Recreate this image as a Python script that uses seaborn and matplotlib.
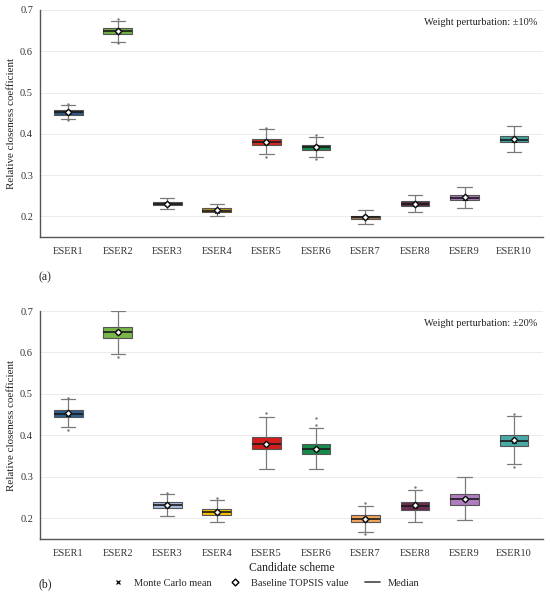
import numpy as np
import pandas as pd
import matplotlib
matplotlib.use('Agg')
import matplotlib.pyplot as plt
from matplotlib.lines import Line2D
import seaborn as sns

schemes = ['ESER1', 'ESER2', 'ESER3', 'ESER4', 'ESER5',
           'ESER6', 'ESER7', 'ESER8', 'ESER9', 'ESER10']

# panel (a): weight perturbation +-10%
a_lo  = [0.435, 0.623, 0.217, 0.200, 0.350, 0.343, 0.181, 0.210, 0.219, 0.356]
a_q1  = [0.446, 0.642, 0.227, 0.210, 0.373, 0.360, 0.194, 0.224, 0.239, 0.379]
a_med = [0.452, 0.648, 0.231, 0.214, 0.380, 0.367, 0.198, 0.230, 0.245, 0.386]
a_q3  = [0.458, 0.656, 0.235, 0.219, 0.388, 0.374, 0.202, 0.236, 0.251, 0.394]
a_hi  = [0.470, 0.674, 0.245, 0.231, 0.412, 0.393, 0.215, 0.251, 0.272, 0.418]
a_mean = [0.452, 0.648, 0.231, 0.214, 0.380, 0.367, 0.198, 0.230, 0.245, 0.386]
a_base = [0.452, 0.648, 0.231, 0.215, 0.381, 0.368, 0.199, 0.231, 0.246, 0.387]
a_flier_x = ['ESER1', 'ESER1', 'ESER2', 'ESER2', 'ESER5', 'ESER5', 'ESER6', 'ESER6']
a_flier_y = [0.472, 0.433, 0.677, 0.619, 0.415, 0.343, 0.396, 0.340]

# panel (b): weight perturbation +-20%
b_lo  = [0.419, 0.596, 0.205, 0.190, 0.318, 0.318, 0.167, 0.191, 0.196, 0.330]
b_q1  = [0.444, 0.636, 0.224, 0.208, 0.366, 0.355, 0.190, 0.221, 0.231, 0.374]
b_med = [0.452, 0.649, 0.231, 0.216, 0.380, 0.368, 0.198, 0.230, 0.246, 0.387]
b_q3  = [0.461, 0.662, 0.239, 0.223, 0.396, 0.380, 0.207, 0.240, 0.258, 0.402]
b_hi  = [0.487, 0.700, 0.259, 0.244, 0.445, 0.418, 0.230, 0.268, 0.299, 0.446]
b_mean = [0.452, 0.649, 0.231, 0.216, 0.380, 0.368, 0.198, 0.230, 0.246, 0.387]
b_base = [0.453, 0.649, 0.231, 0.216, 0.380, 0.368, 0.199, 0.231, 0.246, 0.388]
b_flier_x = ['ESER1', 'ESER1', 'ESER2', 'ESER3', 'ESER4', 'ESER5', 'ESER6', 'ESER6',
             'ESER7', 'ESER7', 'ESER8', 'ESER10', 'ESER10']
b_flier_y = [0.491, 0.413, 0.590, 0.262, 0.249, 0.453, 0.441, 0.424,
             0.237, 0.161, 0.275, 0.452, 0.323]

colors_a = ['#2b5783', '#72b043', '#4d5b6c', '#b8901c', '#d42a20',
            '#17874a', '#a07850', '#5e2a48', '#a97bb8', '#3fa3a0']
colors_b = ['#2e5f8f', '#78b54a', '#a6bcdc', '#f5c000', '#d41e1e',
            '#17894a', '#f3a55e', '#6b2d50', '#b07cc0', '#4aa9a6']

sns.set_style('white')
plt.rcParams['font.family'] = ['Liberation Serif', 'DejaVu Serif']

fig = plt.figure(figsize=(5.5, 6.01), dpi=100)
ax_a = fig.add_axes([0.0727, 0.6057, 0.9143, 0.3777])
ax_b = fig.add_axes([0.0727, 0.1032, 0.9143, 0.3793])


def draw_panel(ax, lo, q1, med, q3, hi, mean, base, fx, fy, colors, label):
    # five numbers per scheme -> quartiles come out exactly, whiskers go to min/max
    rows = []
    for i, s in enumerate(schemes):
        for v in (lo[i], q1[i], med[i], q3[i], hi[i]):
            rows.append((s, v))
    df = pd.DataFrame(rows, columns=['scheme', 'value'])

    ax.grid(axis='y', color='#ebebeb', linewidth=0.7, zorder=0)
    ax.set_axisbelow(True)
    sns.boxplot(data=df, x='scheme', y='value', hue='scheme', order=schemes,
                hue_order=schemes, palette=colors, saturation=1, legend=False,
                width=0.58, whis=np.inf, linecolor='#555555', linewidth=0.8,
                whiskerprops=dict(color='#7a7a7a', linewidth=0.9),
                capprops=dict(color='#7a7a7a', linewidth=0.9),
                medianprops=dict(color='#1a1a1a', linewidth=1.2),
                ax=ax, zorder=2)

    pos = {s: i for i, s in enumerate(schemes)}
    ax.scatter([pos[s] for s in fx], fy, s=3, color='#777777', zorder=2.5, linewidths=0)
    xs = np.arange(len(schemes))
    ax.scatter(xs, mean, marker='x', s=10, color='black', linewidths=0.8, zorder=3)
    ax.scatter(xs, base, marker='D', s=11, facecolor='white', edgecolor='#111111',
               linewidths=1.0, zorder=4)

    ax.set_xlim(-0.57, 9.58)
    ax.set_ylim(0.15, 0.7)
    ax.set_yticks([0.2, 0.3, 0.4, 0.5, 0.6, 0.7])
    ax.set_yticklabels(['0.2', '0.3', '0.4', '0.5', '0.6', '0.7'])
    ax.set_ylabel('Relative closeness coefficient', fontsize=7.9, color='#222222',
                  labelpad=3)
    ax.set_xlabel('')
    ax.tick_params(axis='y', length=0, labelsize=7.5, colors='#333333', pad=5)
    ax.tick_params(axis='x', length=3, width=0.8, color='#555555', labelsize=7.5,
                   labelcolor='#333333', pad=4)
    for sp in ['top', 'right']:
        ax.spines[sp].set_visible(False)
    for sp in ['left', 'bottom']:
        ax.spines[sp].set_color('#555555')
        ax.spines[sp].set_linewidth(1.0)
    ax.text(0.99, 0.945, label, transform=ax.transAxes, ha='right', va='center',
            fontsize=7.5, color='#222222')


draw_panel(ax_a, a_lo, a_q1, a_med, a_q3, a_hi, a_mean, a_base,
           a_flier_x, a_flier_y, colors_a, 'Weight perturbation: \u00b110%')
draw_panel(ax_b, b_lo, b_q1, b_med, b_q3, b_hi, b_mean, b_base,
           b_flier_x, b_flier_y, colors_b, 'Weight perturbation: \u00b120%')
ax_b.set_xlabel('Candidate scheme', fontsize=8.5, color='#222222', labelpad=3)

fig.text(0.082, 0.539, '(a)', fontsize=8.5, ha='center', va='center', color='#222222')
fig.text(0.082, 0.027, '(b)', fontsize=8.5, ha='center', va='center', color='#222222')

handles = [
    Line2D([], [], marker='x', linestyle='none', color='black', markersize=3.5,
           markeredgewidth=0.9),
    Line2D([], [], marker='D', linestyle='none', markerfacecolor='white',
           markeredgecolor='black', markersize=3.5, markeredgewidth=1.0),
    Line2D([], [], color='#444444', linewidth=1.2),
]
fig.legend(handles, ['Monte Carlo mean', 'Baseline TOPSIS value', 'Median'],
           loc='center', bbox_to_anchor=(0.482, 0.030), ncol=3, frameon=False,
           fontsize=7.5, handlelength=1.4, columnspacing=1.6, handletextpad=0.8)

fig.savefig('out.png', dpi=100)
